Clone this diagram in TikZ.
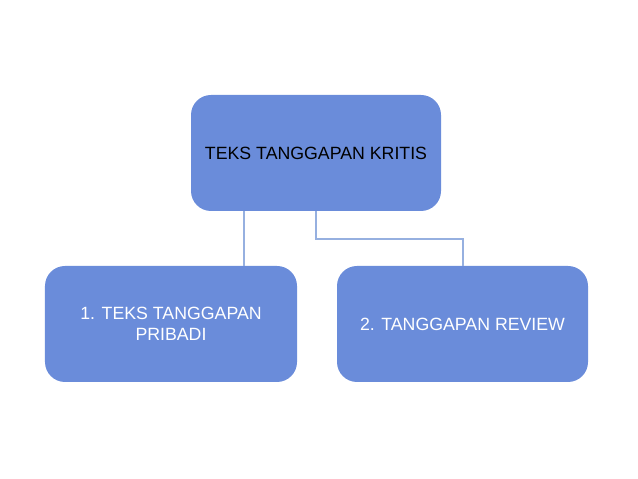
\documentclass[tikz,border=0pt]{standalone}
\usepackage{fontspec}
\setmainfont{Liberation Sans}
\usetikzlibrary{positioning}
\definecolor{boxblue}{RGB}{106,140,218}
\definecolor{lineblue}{RGB}{150,176,224}
\begin{document}
\begin{tikzpicture}[x=1bp, y=1bp,
    box/.style={draw=none, rectangle, rounded corners=20bp, fill=boxblue, minimum width=250bp, minimum height=116bp, align=center, font=\fontsize{17.8}{21.5}\selectfont},
    link/.style={draw=lineblue, line width=2bp}]
\useasboundingbox (0,0) rectangle (638,479);
    % Top node
\node[box, text=black] (kritis) at (316,326) {TEKS TANGGAPAN KRITIS};
    % Two sub nodes
\node[box, text=white, minimum width=252bp] (pribadi) at (171,155) {1. TEKS TANGGAPAN\\PRIBADI};
\node[box, text=white, minimum width=251bp] (review) at (462.5,155) {2. TANGGAPAN REVIEW};
    % Connections
    \draw[link] ([xshift=-72bp]kritis.south) -- ([xshift=-72bp]kritis.south |- pribadi.north);
    \draw[link] (kritis.south) -- ++(0,-28bp) -| (review.north);
\end{tikzpicture}
\end{document}
